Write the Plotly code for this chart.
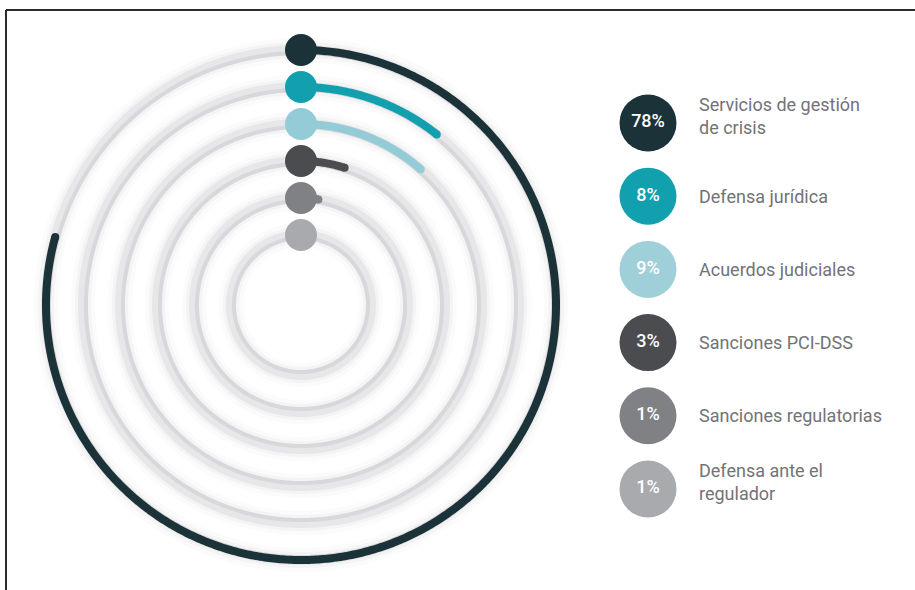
import numpy as np
import plotly.graph_objects as go

# ---- data ----
categories = [
    "Servicios de gestión<br>de crisis",
    "Defensa jurídica",
    "Acuerdos judiciales",
    "Sanciones PCI-DSS",
    "Sanciones regulatorias",
    "Defensa ante el<br>regulador",
]
pct_labels = [78, 8, 9, 3, 1, 1]
# arc extent as drawn in the picture (percent of full circle)
arc_pct = [79.3, 10.7, 11.5, 4.9, 2.6, 1.5]
ring_index = [6, 5, 4, 3, 2, 1]  # outer -> inner
colors = ["#1c3239", "#12a0af", "#93ccd7", "#4a4c50", "#7f8184", "#a8aaad"]
label_colors = ["#1c3239", "#12a0af", "#9fd0da", "#4a4c50", "#7f8184", "#a8aaad"]

W, H = 915, 590
fig = go.Figure()

full = np.linspace(0, 360, 721)

# tracks (soft grey rings)
for r in ring_index:
    for width, col in [(24, "rgba(150,150,160,0.04)"),
                       (16, "rgba(150,150,160,0.07)"),
                       (10, "rgba(170,170,180,0.16)")]:
        fig.add_trace(go.Scatterpolar(r=[r] * len(full), theta=full, mode="lines",
                                      line=dict(color=col, width=width),
                                      hoverinfo="skip", showlegend=False))
    fig.add_trace(go.Scatterpolar(r=[r - 0.08] * len(full), theta=full, mode="lines",
                                  line=dict(color="rgba(150,150,160,0.18)", width=4),
                                  hoverinfo="skip", showlegend=False))

# value arcs
for r, a, c in zip(ring_index, arc_pct, colors):
    th = np.linspace(0, a * 3.6, max(int(a * 3.6 * 2), 2))
    fig.add_trace(go.Scatterpolar(r=[r] * len(th), theta=th, mode="lines",
                                  line=dict(color=c, width=8),
                                  hoverinfo="skip", showlegend=False))
    fig.add_trace(go.Scatterpolar(r=[r], theta=[a * 3.6], mode="markers",
                                  marker=dict(color=c, size=8),
                                  hoverinfo="skip", showlegend=False))

# start dots
fig.add_trace(go.Scatterpolar(r=ring_index, theta=[0] * len(ring_index), mode="markers",
                              marker=dict(color=colors, size=32),
                              hoverinfo="skip", showlegend=False))

# legend circles
idx = list(range(len(categories)))
fig.add_trace(go.Scatter(x=[0] * len(idx), y=idx, mode="markers+text",
                         marker=dict(color=label_colors, size=57),
                         text=[f"{p}%" for p in pct_labels], textposition="middle center",
                         textfont=dict(color="white", size=18, family="Roboto", weight=500),
                         hoverinfo="skip", showlegend=False, xaxis="x", yaxis="y"))

annotations = []
for i, cat in enumerate(categories):
    annotations.append(dict(x=49, y=i, xref="x", yref="y", text=cat, showarrow=False,
                            xanchor="left", yanchor="middle", align="left",
                            yshift=7 if "<br>" in cat else 0,
                            font=dict(color="#727377", size=18, family="Roboto")))

fig.update_layout(
    width=W, height=H,
    margin=dict(l=0, r=0, t=0, b=0),
    paper_bgcolor="white", plot_bgcolor="rgba(0,0,0,0)",
    showlegend=False, hovermode=False,
    polar=dict(
        domain=dict(x=[31 / W, 571 / W], y=[1 - 575 / H, 1 - 35 / H]),
        bgcolor="rgba(0,0,0,0)",
        radialaxis=dict(range=[-0.892, 6.405], visible=False, showgrid=False,
                        showline=False, showticklabels=False, ticks=""),
        angularaxis=dict(rotation=90, direction="clockwise", visible=False, showgrid=False,
                         showline=False, showticklabels=False, ticks=""),
    ),
    xaxis=dict(domain=[600 / W, 1], range=[-48, 267], visible=False, fixedrange=True),
    yaxis=dict(domain=[0, 1], range=[6.38, -1.68], visible=False, fixedrange=True),
    annotations=annotations,
    shapes=[
        dict(type="line", xref="paper", yref="paper", x0=6 / W, x1=1, y0=1 - 10 / H, y1=1 - 10 / H,
             line=dict(color="#2b2b2b", width=2)),
        dict(type="line", xref="paper", yref="paper", x0=6 / W, x1=6 / W, y0=0, y1=1 - 10 / H,
             line=dict(color="#2b2b2b", width=2)),
    ],
)

fig.write_html("out.html")
